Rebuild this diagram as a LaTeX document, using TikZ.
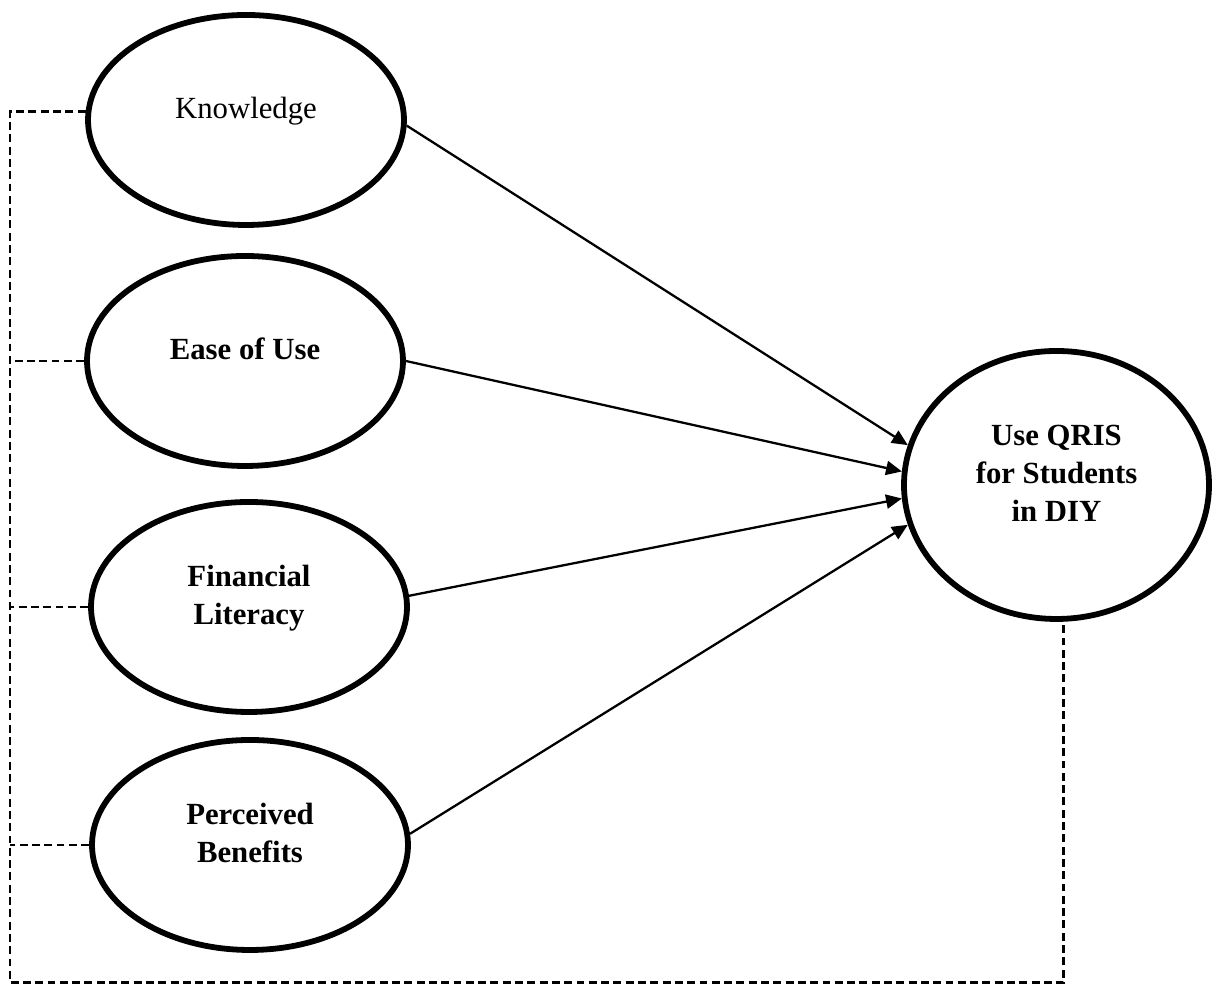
\documentclass[tikz,border=0pt]{standalone}
\usepackage{fontspec}
\setmainfont{Liberation Serif}
\usetikzlibrary{arrows.meta,shapes.geometric}
\tikzset{basic/.style={draw,ellipse,line width=3.3pt,inner sep=0pt,text depth=13.5pt,
                       align=center,font=\fontsize{17.5}{21.6}\selectfont}}
\tikzset{factor/.style={basic,minimum width=6.32cm,minimum height=4.2cm}}
\tikzset{strong/.style={factor,font=\fontsize{17.5}{21.6}\selectfont\bfseries}}
\tikzset{outcome/.style={basic,minimum width=6.1cm,minimum height=5.36cm,
                         font=\fontsize{17.5}{21.6}\selectfont\bfseries}}
\tikzset{effect/.style={-{Triangle[length=9pt,width=8pt]},line width=1.3pt}}
\tikzset{link/.style={dashed,dash pattern=on 4.5pt off 2.5pt,line width=1.4pt}}

\begin{document}
\begin{tikzpicture}
    \useasboundingbox (0,0) rectangle (24.38,19.7);
    \node[factor] (know) at (4.92,17.3) {Knowledge};
    \node[strong] (ease) at (4.90,12.48) {Ease of Use};
    \node[strong] (fin) at (4.98,7.56) {Financial\\Literacy};
    \node[strong] (per) at (5.00,2.80) {Perceived\\Benefits};
    \node[outcome] (qris) at (21.13,10.0) {Use QRIS\\for Students\\in DIY};
    % Paths
    \foreach \src/\from/\to in {know/-2/165,ease/0/175,fin/4/185,per/4/195}{%
          \draw[effect] (\src.\from) -- (qris.\to);
        }
    % Dashed frame
    \coordinate (lb) at (0.2,0.05);
    \draw[link] (know.177) -| (lb) -| (qris.-87);
    \foreach \src in {ease,fin,per}{%
          \draw[link] (\src.west) -- (\src.west -| lb);
        }
\end{tikzpicture}
\end{document}
